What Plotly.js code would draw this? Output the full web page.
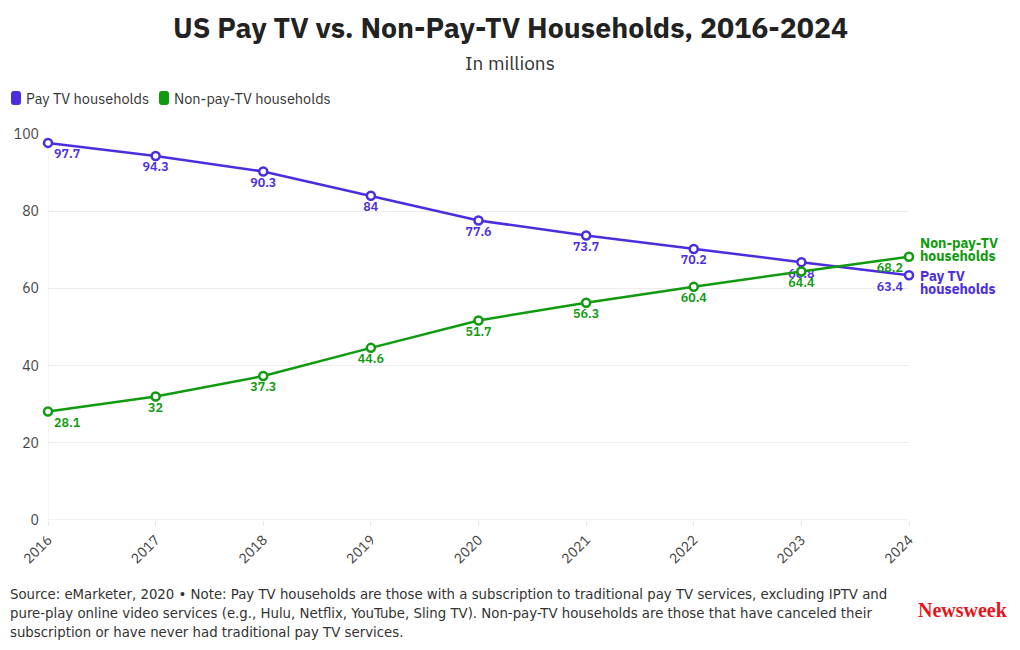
<!DOCTYPE html>
<html>
<head>
<meta charset="utf-8">
<script src="https://cdn.plot.ly/plotly-3.0.1.min.js"></script>
<style>
html,body{margin:0;padding:0;background:#fff;}
#chart{width:1020px;height:650px;}
</style>
</head>
<body>
<div id="chart"></div>
<script>
const years = ["2016","2017","2018","2019","2020","2021","2022","2023","2024"];
const payTV = [97.7, 94.3, 90.3, 84, 77.6, 73.7, 70.2, 66.8, 63.4];
const nonPayTV = [28.1, 32, 37.3, 44.6, 51.7, 56.3, 60.4, 64.4, 68.2];
const payName = "Pay TV households";
const nonPayName = "Non-pay-TV households";

const purple = "#4b2ddf";
const green = "#109a10";
const font = "'IBM Plex Sans', 'Noto Sans', 'Open Sans', sans-serif";

// plot area in pixels
const L = 48, R = 909, T = 134, B = 520;
const px = v => (v - L) / (R - L);
const py = v => 1 - (v - T) / (B - T);

const xNum = years.map(Number);
function positions(n){
  return Array.from({length:n},(_,i)=> i===0 ? "bottom right" : (i===n-1 ? "bottom left" : "bottom center"));
}

const traces = [
  {
    x: xNum, y: payTV, name: payName, type: "scatter", mode: "lines+markers+text",
    line: {color: purple, width: 2.5}, showlegend: false,
    marker: {symbol: "circle", size: 8, color: "#fff", line: {color: purple, width: 2.5}},
    text: payTV.map(String), textposition: positions(payTV.length),
    textfont: {color: purple, size: 12.5, family: font, weight: 600},
    cliponaxis: false, hoverinfo: "x+y"
  },
  {
    x: xNum, y: nonPayTV, name: nonPayName, type: "scatter", mode: "lines+markers+text",
    line: {color: green, width: 2.5}, showlegend: false,
    marker: {symbol: "circle", size: 8, color: "#fff", line: {color: green, width: 2.5}},
    text: nonPayTV.map(String), textposition: positions(nonPayTV.length),
    textfont: {color: green, size: 12.5, family: font, weight: 600},
    cliponaxis: false, hoverinfo: "x+y"
  }
];

// legend drawn by hand (rounded swatches + names)
const legendItems = [
  {name: payName, color: purple, sx: 11},
  {name: nonPayName, color: green, sx: 159}
];
function roundRect(x0, y0, w, h, r){
  const X = v => px(v).toFixed(5), Y = v => py(v).toFixed(5);
  return `M ${X(x0+r)},${Y(y0)} L ${X(x0+w-r)},${Y(y0)} Q ${X(x0+w)},${Y(y0)} ${X(x0+w)},${Y(y0+r)} ` +
         `L ${X(x0+w)},${Y(y0+h-r)} Q ${X(x0+w)},${Y(y0+h)} ${X(x0+w-r)},${Y(y0+h)} ` +
         `L ${X(x0+r)},${Y(y0+h)} Q ${X(x0)},${Y(y0+h)} ${X(x0)},${Y(y0+h-r)} ` +
         `L ${X(x0)},${Y(y0+r)} Q ${X(x0)},${Y(y0)} ${X(x0+r)},${Y(y0)} Z`;
}
const legendShapes = legendItems.map(it => ({
  type: "path", xref: "paper", yref: "paper", path: roundRect(it.sx, 91, 10, 14, 3),
  fillcolor: it.color, line: {width: 0}
}));
const legendAnn = legendItems.map(it => ({
  xref: "paper", yref: "paper", x: px(it.sx + 13), xanchor: "left", y: py(98.5), yanchor: "middle",
  text: it.name, showarrow: false, font: {size: 14.5, color: "#333", family: font}
}));

const endLabels = [
  {lines: ["Non-pay-TV", "households"], color: green, pyv: 243},
  {lines: ["Pay TV", "households"], color: purple, pyv: 276}
];
const endAnn = [];
endLabels.forEach(l => l.lines.forEach((t, i) => endAnn.push({
  xref: "paper", yref: "paper", x: px(918), xanchor: "left",
  y: py(l.pyv + i * 13), yanchor: "middle",
  text: "<b>" + t + "</b>", showarrow: false,
  font: {size: 14, color: l.color, family: font}
})));

const layout = {
  width: 1020, height: 650,
  margin: {l: L, r: 1020 - R, t: T, b: 650 - B},
  paper_bgcolor: "#fff", plot_bgcolor: "#fff",
  font: {family: font, color: "#333"},
  showlegend: false,
  xaxis: {
    type: "linear", range: [2016, 2024],
    tickvals: xNum, ticktext: years, tickangle: -45,
    showgrid: false, zeroline: false,
    showline: false, ticks: "outside", ticklen: 5, tickcolor: "#e6e6e6",
    tickfont: {size: 14, color: "#444", family: font}
  },
  yaxis: {
    range: [0, 100], tickvals: [0, 20, 40, 60, 80, 100],
    showgrid: true, gridcolor: "#ececec", gridwidth: 1,
    zeroline: false, showline: false, ticks: "", ticklen: 0,
    tickfont: {size: 14, color: "#444", family: font},
    ticklabelstandoff: 8
  },
  shapes: [
    {type: "line", xref: "x", yref: "paper", x0: 2016, x1: 2016, y0: 0, y1: 1, line: {color: "#ececec", width: 1}, layer: "below"},
    {type: "line", xref: "x", yref: "y", x0: 2016, x1: 2024, y0: 0, y1: 0, line: {color: "#e6e6e6", width: 1}, layer: "below"},
    ...legendShapes
  ],
  annotations: [
    {xref: "paper", yref: "paper", x: px(510), xanchor: "center", y: py(28), yanchor: "middle",
     text: "<b>US Pay TV vs. Non-Pay-TV Households, 2016-2024</b>", showarrow: false,
     font: {size: 28.5, color: "#222", family: font}},
    {xref: "paper", yref: "paper", x: px(510), xanchor: "center", y: py(63), yanchor: "middle",
     text: "In millions", showarrow: false,
     font: {size: 19, color: "#333", family: font}},
    ...legendAnn,
    ...endAnn,
    {xref: "paper", yref: "paper", x: px(8), xanchor: "left", y: py(583), yanchor: "top",
     text: "Source: eMarketer, 2020 • Note: Pay TV households are those with a subscription to traditional pay TV services, excluding IPTV and<br>pure-play online video services (e.g., Hulu, Netflix, YouTube, Sling TV). Non-pay-TV households are those that have canceled their<br>subscription or have never had traditional pay TV services.",
     align: "left", showarrow: false,
     font: {size: 14.8, color: "#333", family: "'DejaVu Sans Condensed', 'Liberation Sans Narrow', 'Roboto', sans-serif"}},
    {xref: "paper", yref: "paper", x: px(1010), xanchor: "right", y: py(610), yanchor: "middle",
     text: "<b>Newsweek</b>", showarrow: false,
     font: {size: 20, color: "#e8141c", family: "'Liberation Serif', 'DejaVu Serif', serif"}}
  ]
};

Plotly.newPlot("chart", traces, layout, {displayModeBar: false, responsive: false});
</script>
</body>
</html>
